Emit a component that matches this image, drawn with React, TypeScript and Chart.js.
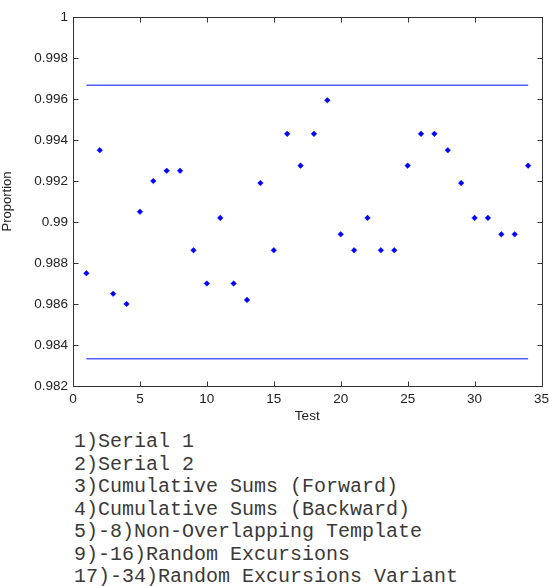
import React, { useEffect, useRef } from "react";
import { Chart, registerables } from "chart.js";

Chart.register(...registerables);

const testNumbers = [1,2,3,4,5,6,7,8,9,10,11,12,13,14,15,16,17,18,19,20,21,22,23,24,25,26,27,28,29,30,31,32,33,34];
const proportions = [
  0.9875, 0.9935, 0.9865, 0.986, 0.9905, 0.992, 0.9925, 0.9925, 0.98862, 0.987,
  0.9902, 0.987, 0.9862, 0.9919, 0.98862, 0.9943, 0.99275, 0.9943, 0.99594, 0.9894,
  0.98862, 0.9902, 0.98862, 0.98862, 0.99275, 0.9943, 0.9943, 0.9935, 0.9919, 0.9902,
  0.9902, 0.9894, 0.9894, 0.99275,
];
const limitXs = [1, 34];
const upperLimit = 0.99667;
const lowerLimit = 0.98333;
const xTicks = [0, 5, 10, 15, 20, 25, 30, 35];
const yTicks = [0.982, 0.984, 0.986, 0.988, 0.99, 0.992, 0.994, 0.996, 0.998, 1];
const legendLines = [
  "1)Serial 1",
  "2)Serial 2",
  "3)Cumulative Sums (Forward)",
  "4)Cumulative Sums (Backward)",
  "5)-8)Non-Overlapping Template",
  "9)-16)Random Excursions",
  "17)-34)Random Excursions Variant",
];

const AXIS_COLOR = "#333333";
const FONT = "'Liberation Sans', Arial, sans-serif";

const boxPlugin = {
  id: "matlabBox",
  afterDraw(chart: any) {
    const { ctx, chartArea: a, scales } = chart;
    const x = scales.x;
    const y = scales.y;
    const L = 5;
    ctx.save();
    ctx.strokeStyle = AXIS_COLOR;
    ctx.lineWidth = 1;
    const l = Math.round(a.left) + 0.5;
    const r = Math.round(a.right) + 0.5;
    const t = Math.round(a.top) + 0.5;
    const b = Math.round(a.bottom) + 0.5;
    ctx.strokeRect(l, t, r - l, b - t);
    ctx.beginPath();
    x.ticks.forEach((tk: any) => {
      const px = Math.round(x.getPixelForValue(tk.value)) + 0.5;
      ctx.moveTo(px, b); ctx.lineTo(px, b - L);
      ctx.moveTo(px, t); ctx.lineTo(px, t + L);
    });
    y.ticks.forEach((tk: any) => {
      const py = Math.round(y.getPixelForValue(tk.value)) + 0.5;
      ctx.moveTo(l, py); ctx.lineTo(l + L, py);
      ctx.moveTo(r, py); ctx.lineTo(r - L, py);
    });
    ctx.stroke();
    ctx.restore();
  },
};

function ProportionChart() {
  const ref = useRef<HTMLCanvasElement | null>(null);
  useEffect(() => {
    if (!ref.current) return;
    const lineColor = "rgb(85,95,255)";
    const chart = new Chart(ref.current, {
      type: "scatter",
      data: {
        datasets: [
          {
            label: "proportion",
            data: testNumbers.map((t, i) => ({ x: t, y: proportions[i] })),
            pointStyle: "rectRot",
            pointRadius: 2.8,
            backgroundColor: "#0000ff",
            borderColor: "#0000ff",
            borderWidth: 0.5,
            showLine: false,
          },
          {
            label: "upper",
            data: limitXs.map((v) => ({ x: v, y: upperLimit })),
            showLine: true,
            pointRadius: 0,
            borderColor: lineColor,
            borderWidth: 1.5,
          },
          {
            label: "lower",
            data: limitXs.map((v) => ({ x: v, y: lowerLimit })),
            showLine: true,
            pointRadius: 0,
            borderColor: lineColor,
            borderWidth: 1.5,
          },
        ],
      },
      options: {
        animation: false,
        responsive: false,
        events: [],
        layout: { padding: { left: 0, right: 7.5, top: 17, bottom: 0 } },
        plugins: { legend: { display: false }, tooltip: { enabled: false } },
        scales: {
          x: {
            type: "linear",
            min: 0,
            max: 35,
            afterBuildTicks: (s: any) => { s.ticks = xTicks.map((v) => ({ value: v })); },
            afterFit: (s: any) => { s.height = 39; s.paddingLeft = 0; s.paddingRight = 0; },
            grid: { display: false, drawTicks: false, tickLength: 0 },
            border: { display: false },
            ticks: {
              padding: 5,
              color: "#222",
              font: { family: FONT, size: 13.5 },
              maxRotation: 0,
              callback: (v: any) => String(v),
            },
            title: {
              display: true,
              text: "Test",
              color: "#222",
              font: { family: FONT, size: 13.5 },
              padding: { top: 0, bottom: 1 },
            },
          },
          y: {
            type: "linear",
            min: 0.982,
            max: 1,
            afterBuildTicks: (s: any) => { s.ticks = yTicks.map((v) => ({ value: v })); },
            afterFit: (s: any) => { s.width = 73; s.paddingTop = 0; s.paddingBottom = 0; },
            grid: { display: false, drawTicks: false, tickLength: 0 },
            border: { display: false },
            ticks: {
              padding: 5,
              color: "#222",
              font: { family: FONT, size: 13.5 },
              callback: (v: any) => String(Number(Number(v).toFixed(3))),
            },
            title: {
              display: true,
              text: "Proportion",
              color: "#222",
              font: { family: FONT, size: 13 },
              padding: { top: 0, bottom: 0 },
            },
          },
        },
      },
      plugins: [boxPlugin],
    } as any);
    return () => chart.destroy();
  }, []);
  return <canvas ref={ref} width={549} height={425} style={{ display: "block" }} />;
}

export default function App() {
  return (
    <div style={{ position: "absolute", left: 0, top: 0, width: 549, height: 586, background: "#fff", overflow: "hidden" }}>
      <ProportionChart />
      <div
        style={{
          position: "absolute",
          left: 74,
          top: 431,
          fontFamily: "'Courier New', Courier, 'Liberation Mono', monospace",
          fontSize: 20,
          lineHeight: "22.5px",
          color: "#3a3a3a",
          whiteSpace: "pre",
        }}
      >
        {legendLines.map((s, i) => (
          <div key={i}>{s}</div>
        ))}
      </div>
    </div>
  );
}
